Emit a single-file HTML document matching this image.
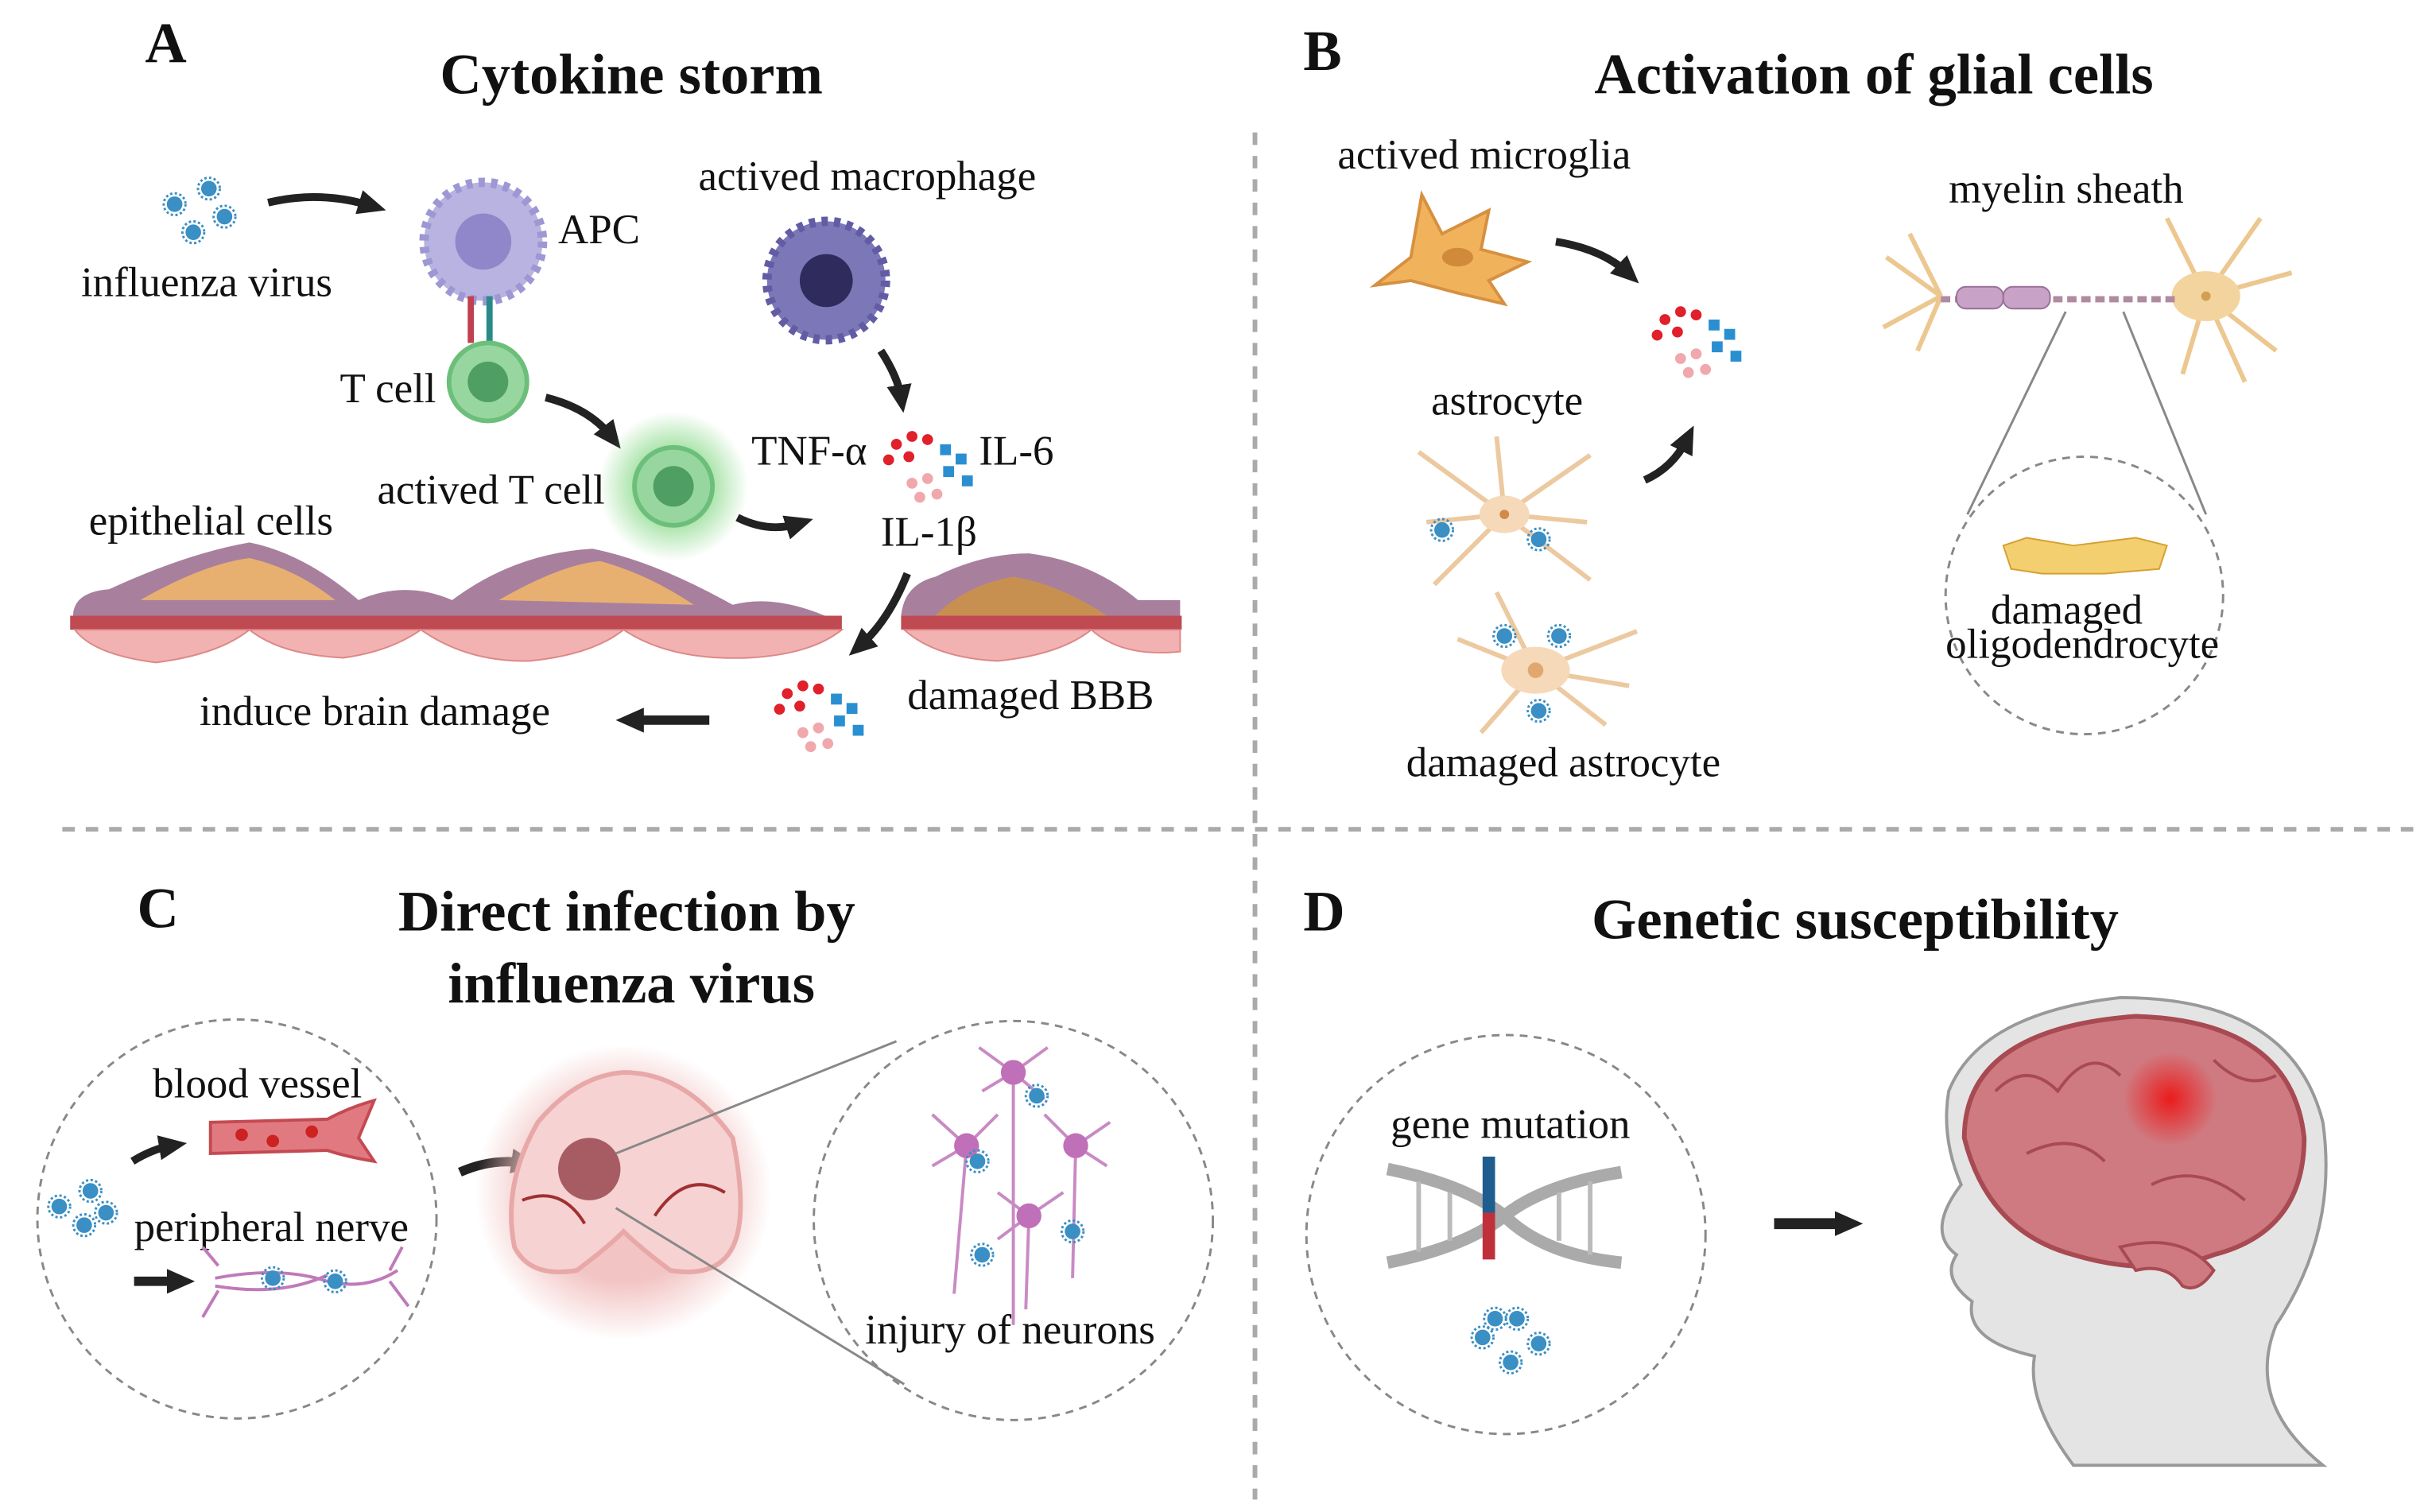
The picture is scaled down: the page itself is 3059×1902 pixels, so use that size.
<!DOCTYPE html>
<html><head><meta charset="utf-8"><style>
html,body{margin:0;padding:0;background:#fff}
svg{display:block}
text{font-family:"Liberation Serif",serif;fill:#111}
.t{font-size:27px}
.h{font-size:37px;font-weight:bold}
</style></head><body>
<svg width="3059" height="1902" viewBox="0 0 1560 970" preserveAspectRatio="none" xmlns="http://www.w3.org/2000/svg">
<defs>
<radialGradient id="glow"><stop offset="0.5" stop-color="#6cd06c" stop-opacity="0.6"/><stop offset="1" stop-color="#6cd06c" stop-opacity="0"/></radialGradient>
<radialGradient id="rg"><stop offset="0" stop-color="#e11" stop-opacity="0.9"/><stop offset="1" stop-color="#e11" stop-opacity="0"/></radialGradient>
<radialGradient id="pk"><stop offset="0.6" stop-color="#f3c4c4"/><stop offset="1" stop-color="#f3c4c4" stop-opacity="0"/></radialGradient>
<marker id="ar" markerUnits="userSpaceOnUse" markerWidth="18" markerHeight="18" refX="8" refY="9" orient="auto"><path d="M0,1 L18,9 L0,17 Z" fill="#222"/></marker>
<g id="vir"><circle r="5" fill="#3a8fc4"/><circle r="7" fill="none" stroke="#3a8fc4" stroke-width="1.5" stroke-dasharray="1.5 1.5"/></g>
<g id="cyto">
<circle cx="0" cy="0" r="3.5" fill="#e0202a"/><circle cx="10" cy="-5" r="3.5" fill="#e0202a"/><circle cx="-5" cy="10" r="3.5" fill="#e0202a"/><circle cx="8" cy="8" r="3.5" fill="#e0202a"/><circle cx="20" cy="-3" r="3.5" fill="#e0202a"/>
<rect x="28" y="0" width="7" height="7" fill="#2a8fd0"/><rect x="38" y="6" width="7" height="7" fill="#2a8fd0"/><rect x="30" y="14" width="7" height="7" fill="#2a8fd0"/><rect x="42" y="20" width="7" height="7" fill="#2a8fd0"/>
<circle cx="10" cy="25" r="3.5" fill="#f0a8ad"/><circle cx="20" cy="22" r="3.5" fill="#f0a8ad"/><circle cx="15" cy="34" r="3.5" fill="#f0a8ad"/><circle cx="26" cy="32" r="3.5" fill="#f0a8ad"/>
</g>
</defs>
<rect width="1560" height="970" fill="#fff"/>
<line x1="805" y1="85" x2="805" y2="962" stroke="#aaa" stroke-width="3" stroke-dasharray="8 7"/>
<line x1="40" y1="532" x2="1555" y2="532" stroke="#aaa" stroke-width="3" stroke-dasharray="8 7"/>

<!-- A -->
<text x="93" y="40" class="h">A</text>
<text x="405" y="60" class="h" text-anchor="middle">Cytokine storm</text>
<g transform="translate(122,133)"><use href="#vir" x="-10" y="-2"/><use href="#vir" x="12" y="-12"/><use href="#vir" x="2" y="16"/><use href="#vir" x="22" y="6"/></g>
<text x="52" y="190" class="t">influenza virus</text>
<path d="M172,130 Q205,122 238,132" fill="none" stroke="#222" stroke-width="5" marker-end="url(#ar)"/>
<circle cx="310" cy="155" r="38" fill="#b8b3e0" stroke="#9d97d4" stroke-width="6" stroke-dasharray="4 4"/>
<circle cx="310" cy="155" r="18" fill="#8f87c9"/>
<text x="358" y="156" class="t">APC</text>
<rect x="300" y="190" width="4" height="30" fill="#c04050"/><rect x="312" y="190" width="4" height="30" fill="#2a8a8a"/>
<circle cx="313" cy="245" r="25" fill="#98d6a0" stroke="#6cbf7a" stroke-width="3"/><circle cx="313" cy="245" r="13" fill="#4f9e64"/>
<text x="218" y="258" class="t">T cell</text>
<path d="M350,255 Q378,262 392,280" fill="none" stroke="#222" stroke-width="5" marker-end="url(#ar)"/>
<circle cx="432" cy="312" r="48" fill="url(#glow)"/>
<circle cx="432" cy="312" r="25" fill="#98d6a0" stroke="#6cbf7a" stroke-width="3"/><circle cx="432" cy="312" r="13" fill="#4f9e64"/>
<text x="242" y="323" class="t">actived T cell</text>
<path d="M473,332 Q493,342 512,336" fill="none" stroke="#222" stroke-width="5" marker-end="url(#ar)"/>
<circle cx="530" cy="180" r="38" fill="#7c78b8" stroke="#615ca4" stroke-width="6" stroke-dasharray="4 4"/><circle cx="530" cy="180" r="17" fill="#2f2b5c"/>
<text x="448" y="122" class="t">actived macrophage</text>
<path d="M565,225 Q576,242 578,255" fill="none" stroke="#222" stroke-width="5" marker-end="url(#ar)"/>
<text x="482" y="298" class="t">TNF-α</text>
<use href="#cyto" x="575" y="285"/>
<text x="628" y="298" class="t">IL-6</text>
<text x="565" y="350" class="t">IL-1β</text>
<text x="57" y="343" class="t">epithelial cells</text>
<g>
<path d="M47,398 Q45,380 70,378 Q120,355 160,348 Q195,355 230,385 Q260,372 290,385 Q330,355 380,352 Q420,360 470,388 Q500,380 540,400 Z" fill="#a8809e"/>
<path d="M90,385 Q130,362 160,358 Q190,365 215,385 Z M320,385 Q360,362 385,360 Q415,368 445,388 Z" fill="#e8b070"/>
<rect x="45" y="395" width="495" height="9" fill="#c04a52"/>
<path d="M48,404 Q60,420 100,425 Q140,420 160,404 Q180,420 220,422 Q250,418 270,404 Q300,425 340,424 Q380,420 400,404 Q430,424 480,422 Q520,420 540,404 Z" fill="#f2b2b2" stroke="#d88" stroke-width="1"/>
<path d="M578,395 Q580,375 600,370 Q630,355 660,355 Q700,360 730,385 L757,385 L757,400 Z" fill="#a8809e"/>
<path d="M600,395 Q620,375 650,370 Q680,375 710,395 Z" fill="#c89050"/>
<rect x="578" y="395" width="180" height="9" fill="#c04a52"/>
<path d="M580,404 Q600,422 640,424 Q680,420 700,404 Q720,422 757,418 L757,404 Z" fill="#f2b2b2" stroke="#d88" stroke-width="1"/>
</g>
<path d="M582,368 Q570,398 552,414" fill="none" stroke="#222" stroke-width="5" marker-end="url(#ar)"/>
<use href="#cyto" x="505" y="445"/>
<text x="582" y="455" class="t">damaged BBB</text>
<path d="M455,462 L405,462" fill="none" stroke="#222" stroke-width="6" marker-end="url(#ar)"/>
<text x="128" y="465" class="t">induce brain damage</text>

<!-- B -->
<text x="836" y="45" class="h">B</text>
<text x="1202" y="60" class="h" text-anchor="middle">Activation of glial cells</text>
<text x="858" y="108" class="t">actived microglia</text>
<path d="M882,183 L905,165 L912,125 L925,150 L955,135 L950,160 L980,168 L955,180 L965,195 L935,188 L905,180 Z" fill="#f0b35c" stroke="#d69040" stroke-width="2"/>
<ellipse cx="935" cy="165" rx="10" ry="6" fill="#d08a3a"/>
<path d="M998,155 Q1028,160 1044,175" fill="none" stroke="#222" stroke-width="5" marker-end="url(#ar)"/>
<use href="#cyto" x="1068" y="205"/>
<text x="918" y="266" class="t">astrocyte</text>
<g stroke="#ecc9a0" stroke-width="3" fill="none">
<path d="M965,330 L910,290 M965,330 L1020,292 M965,330 L920,375 M965,330 L1020,372 M965,330 L960,280 M965,330 L915,335 M965,330 L1018,335"/>
<path d="M985,430 L935,410 M985,430 L1050,405 M985,430 L950,470 M985,430 L1030,465 M985,430 L960,380 M985,430 L1045,440"/>
</g>
<ellipse cx="965" cy="330" rx="16" ry="12" fill="#f5d9b8"/><circle cx="965" cy="330" r="3" fill="#d08a4a"/>
<ellipse cx="985" cy="430" rx="22" ry="15" fill="#f5d9b8"/><circle cx="985" cy="430" r="5" fill="#e0a870"/>
<use href="#vir" x="925" y="340"/><use href="#vir" x="987" y="346"/><use href="#vir" x="965" y="408"/><use href="#vir" x="1000" y="408"/><use href="#vir" x="987" y="456"/>
<path d="M1055,308 Q1073,300 1082,282" fill="none" stroke="#222" stroke-width="5" marker-end="url(#ar)"/>
<text x="902" y="498" class="t">damaged astrocyte</text>
<text x="1250" y="130" class="t">myelin sheath</text>
<g stroke="#ecc78f" stroke-width="3" fill="none">
<path d="M1245,190 L1210,165 M1245,190 L1208,210 M1245,190 L1225,150 M1245,190 L1230,225"/>
<path d="M1415,190 L1390,140 M1415,190 L1450,140 M1415,190 L1470,175 M1415,190 L1460,225 M1415,190 L1400,240 M1415,190 L1440,245"/>
</g>
<ellipse cx="1415" cy="190" rx="22" ry="16" fill="#f3d49e"/><circle cx="1415" cy="190" r="3" fill="#d0a050"/>
<line x1="1245" y1="192" x2="1395" y2="192" stroke="#b08aa0" stroke-width="4" stroke-dasharray="6 3"/>
<rect x="1255" y="184" width="30" height="14" rx="6" fill="#c9a2c8" stroke="#9a7098"/><rect x="1285" y="184" width="30" height="14" rx="6" fill="#c9a2c8" stroke="#9a7098"/>
<line x1="1325" y1="200" x2="1262" y2="330" stroke="#888" stroke-width="1.5"/>
<line x1="1362" y1="200" x2="1415" y2="330" stroke="#888" stroke-width="1.5"/>
<circle cx="1337" cy="382" r="89" fill="#fff" stroke="#888" stroke-width="1.5" stroke-dasharray="5 4"/>
<path d="M1285,350 L1300,345 L1330,350 L1370,345 L1390,350 L1385,365 L1350,368 L1310,368 L1290,365 Z" fill="#f3cf70" stroke="#d5a030"/>
<text x="1277" y="400" class="t">damaged</text>
<text x="1248" y="422" class="t">oligodendrocyte</text>

<!-- C -->
<text x="88" y="595" class="h">C</text>
<text x="402" y="597" class="h" text-anchor="middle">Direct infection by</text>
<text x="405" y="643" class="h" text-anchor="middle">influenza virus</text>
<circle cx="152" cy="782" r="128" fill="none" stroke="#888" stroke-width="1.5" stroke-dasharray="5 4"/>
<text x="98" y="704" class="t">blood vessel</text>
<path d="M135,720 L210,718 Q225,710 240,706 L230,730 L240,745 Q222,742 210,738 L135,740 Z" fill="#e07a80" stroke="#c44a52" stroke-width="2"/>
<circle cx="155" cy="728" r="4" fill="#c22"/><circle cx="175" cy="732" r="4" fill="#c22"/><circle cx="200" cy="726" r="4" fill="#c22"/>
<path d="M85,745 Q98,737 110,735" fill="none" stroke="#222" stroke-width="5" marker-end="url(#ar)"/>
<g transform="translate(48,778)"><use href="#vir" x="-10" y="-4"/><use href="#vir" x="10" y="-14"/><use href="#vir" x="6" y="8"/><use href="#vir" x="20" y="0"/></g>
<text x="86" y="796" class="t">peripheral nerve</text>
<path d="M86,822 L115,822" fill="none" stroke="#222" stroke-width="6" marker-end="url(#ar)"/>
<path d="M138,820 Q180,812 210,822 Q235,828 255,815 M138,825 Q180,832 210,818 M140,812 L130,800 M140,828 L130,845 M250,815 L258,800 M250,822 L262,838" fill="none" stroke="#c07ab8" stroke-width="2"/>
<use href="#vir" x="175" y="820"/><use href="#vir" x="215" y="822"/>
<path d="M295,752 Q315,743 336,746" fill="none" stroke="#222" stroke-width="6" marker-end="url(#ar)"/>
<circle cx="400" cy="765" r="95" fill="url(#pk)"/>
<path d="M345,720 Q370,690 400,688 Q440,688 470,730 Q480,780 470,800 Q460,820 430,815 Q410,800 400,790 Q390,800 370,815 Q340,820 330,800 Q322,760 345,720 Z" fill="#f6d2d2" stroke="#e8a8a8" stroke-width="3"/>
<circle cx="378" cy="750" r="20" fill="#a75c64"/>
<path d="M335,770 Q360,760 375,785 M420,780 Q440,750 465,765" fill="none" stroke="#a03030" stroke-width="2"/>
<line x1="395" y1="740" x2="575" y2="668" stroke="#888" stroke-width="1.5"/>
<line x1="395" y1="775" x2="580" y2="888" stroke="#888" stroke-width="1.5"/>
<circle cx="650" cy="783" r="128" fill="none" stroke="#888" stroke-width="1.5" stroke-dasharray="5 4"/>
<g stroke="#c98ac4" stroke-width="2" fill="none">
<path d="M650,688 L628,672 M650,688 L672,672 M650,688 L630,700 M650,688 L670,705 M650,688 L650,850"/>
<path d="M620,735 L598,715 M620,735 L640,715 M620,735 L598,748 M620,735 L612,830"/>
<path d="M690,735 L670,715 M690,735 L712,720 M690,735 L710,748 M690,735 L688,820"/>
<path d="M660,780 L640,765 M660,780 L682,765 M660,780 L640,795 M660,780 L658,840"/>
</g>
<circle cx="650" cy="688" r="8" fill="#c070b8"/><circle cx="620" cy="735" r="8" fill="#c070b8"/><circle cx="690" cy="735" r="8" fill="#c070b8"/><circle cx="660" cy="780" r="8" fill="#c070b8"/>
<use href="#vir" x="665" y="703"/><use href="#vir" x="627" y="745"/><use href="#vir" x="688" y="790"/><use href="#vir" x="630" y="805"/>
<text x="555" y="862" class="t">injury of neurons</text>

<!-- D -->
<text x="836" y="597" class="h">D</text>
<text x="1190" y="602" class="h" text-anchor="middle">Genetic susceptibility</text>
<circle cx="966" cy="792" r="128" fill="none" stroke="#888" stroke-width="1.5" stroke-dasharray="5 4"/>
<text x="892" y="730" class="t">gene mutation</text>
<path d="M890,750 Q940,760 965,780 Q990,805 1040,810 M890,810 Q940,800 965,780 Q990,760 1040,752" fill="none" stroke="#aaa" stroke-width="8"/>
<g stroke="#bbb" stroke-width="3"><line x1="910" y1="758" x2="910" y2="803"/><line x1="930" y1="765" x2="930" y2="796"/><line x1="1000" y1="765" x2="1000" y2="796"/><line x1="1020" y1="758" x2="1020" y2="805"/></g>
<rect x="951" y="742" width="8" height="36" fill="#1f5d8f"/><rect x="951" y="778" width="8" height="30" fill="#c0303a"/>
<g transform="translate(965,858)"><use href="#vir" x="-14" y="0"/><use href="#vir" x="8" y="-12"/><use href="#vir" x="4" y="16"/><use href="#vir" x="22" y="4"/><use href="#vir" x="-6" y="-12"/></g>
<path d="M1138,785 L1185,785" stroke="#222" stroke-width="7" marker-end="url(#ar)"/>
<path d="M1250,700 Q1270,650 1360,640 Q1470,640 1490,720 Q1500,790 1460,850 Q1440,900 1490,940 L1330,940 Q1300,900 1305,870 Q1260,860 1265,835 Q1245,820 1255,805 Q1235,790 1258,760 Q1245,730 1250,700 Z" fill="#e4e4e4" stroke="#999" stroke-width="2"/>
<path d="M1260,730 Q1260,660 1370,652 Q1470,655 1478,730 Q1478,790 1420,805 Q1380,820 1330,805 Q1275,790 1260,730 Z" fill="#cf7a80" stroke="#a84a52" stroke-width="3"/>
<path d="M1360,800 Q1400,790 1420,815 Q1410,830 1400,825 Q1390,810 1370,815 Z" fill="#cf7a80" stroke="#a84a52" stroke-width="2"/>
<circle cx="1392" cy="705" r="30" fill="url(#rg)"/>
<g fill="none" stroke="#a84a52" stroke-width="2"><path d="M1280,700 Q1300,680 1320,700 Q1340,670 1360,690 M1300,740 Q1330,725 1350,745 M1420,680 Q1440,700 1460,690 M1380,760 Q1410,745 1440,770"/></g>
</svg>
</body></html>
